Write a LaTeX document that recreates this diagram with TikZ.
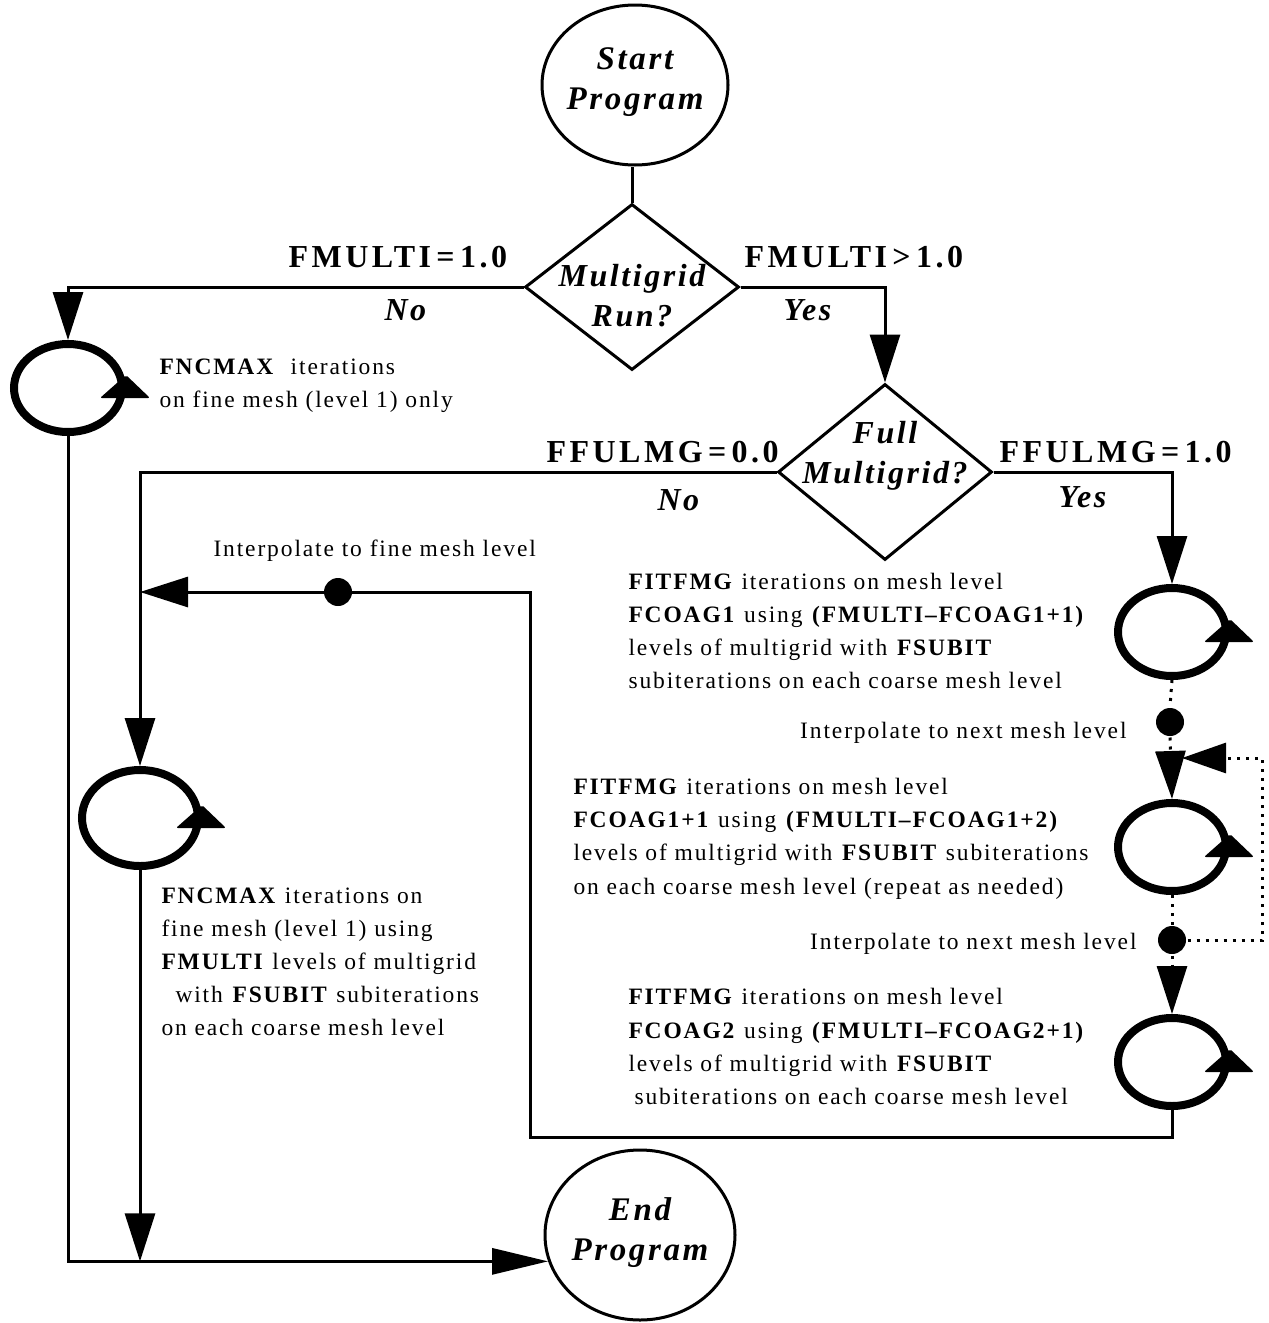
\documentclass[tikz,border=0pt]{standalone}
\usepackage{fontspec}
\setmainfont{Liberation Serif}[LetterSpace=8]
\usetikzlibrary{arrows.meta,shapes.geometric,calc}
\newcommand\ringtip[1]{\fill[rounded corners=2pt] ($(#1.east)+(-26,10)$) -- ($(#1.east)+(0,-13)$) -- ($(#1.east)+(24,10)$) -- cycle;}
\begin{document}
\begin{tikzpicture}[x=1pt,y=-1pt,
  line width=3pt,
  txt/.style={anchor=base west, inner sep=0pt, font=\fontsize{23.5}{27}\selectfont},
  txtr/.style={anchor=base east, inner sep=0pt, font=\fontsize{23.5}{27}\selectfont},
  big/.style={anchor=base west, inner sep=0pt, font=\fontsize{32}{36}\selectfont\bfseries\addfontfeature{LetterSpace=11}},
  bigl/.style={anchor=base west, inner sep=0pt, font=\fontsize{32}{36}\selectfont\bfseries\itshape},
  bigit/.style={inner sep=0pt, font=\fontsize{32}{40}\selectfont\bfseries\itshape, align=center},
  term/.style={ellipse, draw, line width=3pt, inner sep=0pt},
  dec/.style={diamond, draw, line width=3pt, inner sep=0pt, minimum width=214pt, minimum height=166pt},
  ring/.style={ellipse, draw, line width=8pt, inner sep=0pt, minimum width=108pt, minimum height=88pt},
  blob/.style={circle, fill, inner sep=0pt, minimum size=28pt},
  arr/.style={-{Triangle[length=48pt,width=30pt]}},
  arrE/.style={-{Triangle[length=56pt,width=26pt]}},
  dotline/.style={line width=3pt, dash pattern=on 3pt off 6pt},
]
\useasboundingbox (0,0) rectangle (1269,1323);

% terminals and decisions
\node[term, minimum width=186pt, minimum height=160pt] (start) at (635,85) {};
\node[bigit, font=\fontsize{33}{40}\selectfont\bfseries\itshape] (startt) at (635,82) {Start\\Program};
\node[dec] (d1) at (632,287) {};
\node[bigit] (d1t) at (632,296) {Multigrid\\Run?};
\node[dec, minimum height=176pt] (d2) at (885,472) {};
\node[bigit] (d2t) at (885,456) {Full\\Multigrid?};
\node[term, minimum width=190pt, minimum height=170pt] (end) at (640,1235) {};
\node[bigit, font=\fontsize{33}{40}\selectfont\bfseries\itshape] (endt) at (640,1233) {End\\Program};

% loops
\node[ring] (L1) at (68,388) {};
\node[ring, minimum width=116pt, minimum height=96pt] (L2) at (140,818) {};
\node[ring] (R1) at (1172,632) {};
\node[ring] (R2) at (1172,847) {};
\node[ring] (R3) at (1172,1062) {};
\ringtip{L1}\ringtip{L2}\ringtip{R1}\ringtip{R2}\ringtip{R3}

% dots
\node[blob] (dA) at (338,592) {};
\node[blob] (dB) at (1170,722) {};
\node[blob] (dC) at (1172,940) {};

% connectors
\draw (d1.north) -- (d1.north |- start.south);
\draw[arr] (d1.west) -| (L1.north);
\draw[arr] (d1.east) -| (d2.north);
\draw[arr] (d2.west) -| (L2.north);
\draw[arr] (d2.east) -| (R1.north);
\draw[arrE] (L1.south) |- (end.196);
\draw[arr] (L2.south) -- (L2.south |- end.196);
\coordinate (c1) at (530,1137);
\coordinate (c2) at (530,592);
\draw[arr] (R3.south) |- (c1) -- (c2) -- (L2.north |- c2);
\draw[dotline] (R1.south) -- (dB.north);
\draw[dotline, arr] (dB.south) -- (R2.north);
\draw[dotline] (R2.south) -- (dC.north);
\draw[dotline, arr] (dC.south) -- (R3.north);
\coordinate (q1) at (1262,940);
\coordinate (q2) at (1262,758);
\coordinate (q3) at (1182,758);
\draw[dotline, -{Triangle[length=44pt,width=30pt]}] (dC.east) -- (q1) -- (q2) -- (q3);

% branch labels
\node[big] (lab1) at (287,267) {FMULTI\,=\,1.0};
\node[big] (lab2) at (743,267) {FMULTI\,>\,1.0};
\node[bigl] (no1) at (383,320) {No};
\node[bigl] (yes1) at (782,320) {Yes};
\node[big] (lab3) at (545,462) {FFULMG\,=\,0.0};
\node[big] (lab4) at (998,462) {FFULMG\,=\,1.0};
\node[bigl] (no2) at (656,510) {No};
\node[bigl] (yes2) at (1057,507) {Yes};

% descriptions
\node[txt] (t1a) at (158,374) {\textbf{FNCMAX}\ \ iterations};
\node[txt] (t1b) at (158,407) {on fine mesh (level 1) only};
\node[txt] (ti1) at (212,556) {Interpolate to fine mesh level};

\node[txt] (r1a) at (627,589) {\textbf{FITFMG} iterations on mesh level};
\node[txt] (r1b) at (627,622) {\textbf{FCOAG1} using \textbf{(FMULTI–FCOAG1+1)}};
\node[txt] (r1c) at (627,655) {levels of multigrid with \textbf{FSUBIT}};
\node[txt] (r1d) at (627,688) {subiterations on each coarse mesh level};
\node[txtr] (ti2) at (1128,738) {Interpolate to next mesh level};

\node[txt] (r2a) at (572,794) {\textbf{FITFMG} iterations on mesh level};
\node[txt] (r2b) at (572,827) {\textbf{FCOAG1+1} using \textbf{(FMULTI–FCOAG1+2)}};
\node[txt] (r2c) at (572,860) {levels of multigrid with \textbf{FSUBIT} subiterations};
\node[txt] (r2d) at (572,894) {on each coarse mesh level (repeat as needed)};
\node[txtr] (ti3) at (1138,949) {Interpolate to next mesh level};

\node[txt] (r3a) at (627,1004) {\textbf{FITFMG} iterations on mesh level};
\node[txt] (r3b) at (627,1038) {\textbf{FCOAG2} using \textbf{(FMULTI–FCOAG2+1)}};
\node[txt] (r3c) at (627,1071) {levels of multigrid with \textbf{FSUBIT}};
\node[txt] (r3d) at (633,1104) {subiterations on each coarse mesh level};

\node[txt] (l2a) at (160,903) {\textbf{FNCMAX} iterations on};
\node[txt] (l2b) at (160,936) {fine mesh (level 1) using};
\node[txt] (l2c) at (160,969) {\textbf{FMULTI} levels of multigrid};
\node[txt] (l2d) at (174,1002) {with \textbf{FSUBIT} subiterations};
\node[txt] (l2e) at (160,1035) {on each coarse mesh level};
\end{tikzpicture}
\end{document}
